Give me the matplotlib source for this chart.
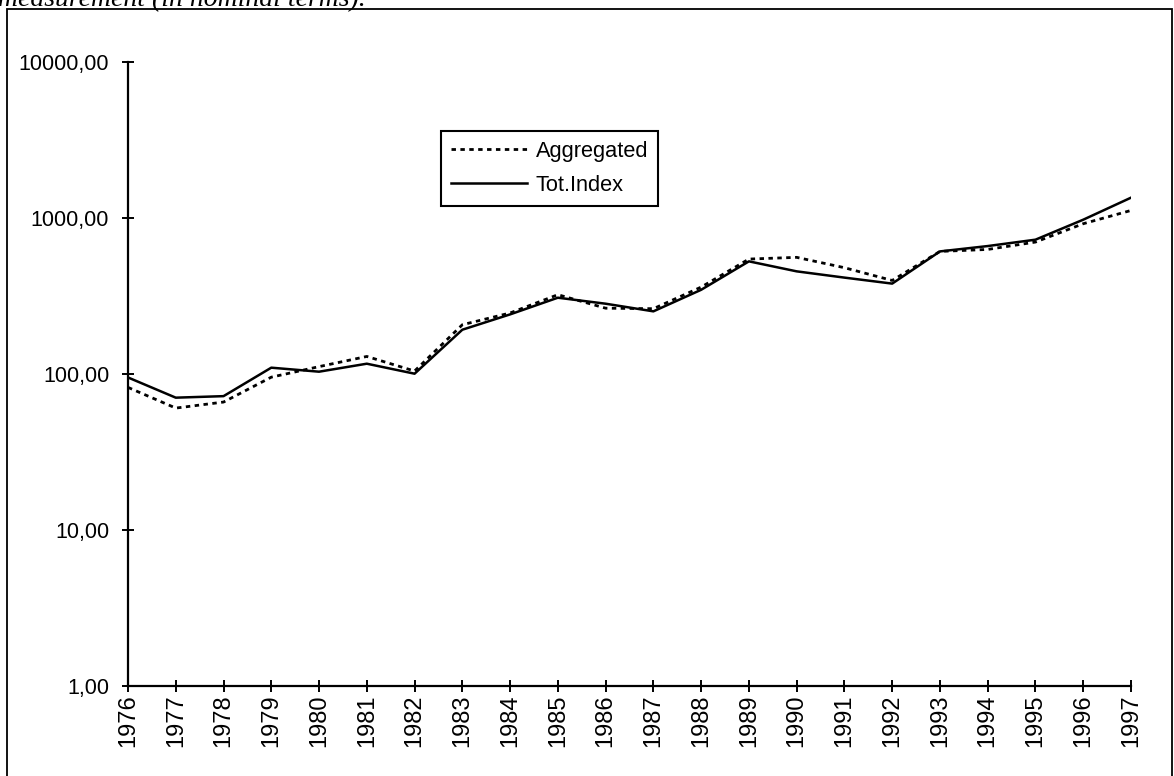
import matplotlib
matplotlib.use("Agg")
import matplotlib.pyplot as plt
from matplotlib.patches import Rectangle
from matplotlib.ticker import FixedLocator, FuncFormatter, NullLocator

years = list(range(1976, 1998))
aggregated = [81.7, 60.2, 65.8, 95, 111, 129, 104, 206, 245, 321, 263, 261,
              359, 543, 557, 478, 396, 608, 626, 698, 915, 1113]
tot_index = [94.6, 70.2, 71.8, 109.3, 103, 115.9, 100, 191.4, 240, 307, 281, 251,
             345, 525, 453, 413, 378, 608, 658, 723, 971, 1344]
y_ticks = [1, 10, 100, 1000, 10000]

plt.rcParams["font.family"] = ["Liberation Sans", "DejaVu Sans"]

fig = plt.figure(figsize=(11.74, 7.76), dpi=100)
ax = fig.add_axes([128 / 1174, 1 - 685.7 / 776, 1003 / 1174, 624 / 776])

ax.plot(years, aggregated, color="black", lw=2, linestyle=(0, (1.6, 1.6)),
        label="Aggregated")
ax.plot(years, tot_index, color="black", lw=1.8, label="Tot.Index")

ax.set_yscale("log")
ax.set_ylim(1, 10000)
ax.set_xlim(years[0], years[-1])
ax.yaxis.set_major_locator(FixedLocator(y_ticks))
ax.yaxis.set_minor_locator(NullLocator())
ax.yaxis.set_major_formatter(FuncFormatter(lambda v, _: f"{v:.2f}".replace(".", ",")))
ax.set_xticks(years)
ax.set_xticklabels([str(y) for y in years], rotation=90)

for side in ("top", "right"):
    ax.spines[side].set_visible(False)
for side in ("left", "bottom"):
    ax.spines[side].set_linewidth(1.6)
ax.tick_params(direction="inout", length=9, width=1.4, pad=3)
ax.tick_params(axis="y", labelsize=15.5, pad=9)
ax.tick_params(axis="x", labelsize=17, pad=2)

leg = ax.legend(loc="upper left", bbox_to_anchor=(0.312, 0.889), borderaxespad=0,
                fancybox=False, edgecolor="black", fontsize=15.7, handlelength=3.5,
                handletextpad=0.4, borderpad=0.45, labelspacing=0.6, framealpha=1)
leg.get_frame().set_linewidth(1.5)

# outer frame of the page figure
fig.patches.append(Rectangle((7 / 1174, -0.01), 1165 / 1174, 1 - 9 / 776 + 0.01,
                             transform=fig.transFigure, fill=False,
                             edgecolor="black", lw=1.3))
# caption line clipped at the top of the crop
fig.text(-2 / 1174, 1 - 6 / 776, "measurement (in nominal terms).",
         fontsize=20, style="italic", family=["Liberation Serif", "DejaVu Serif"],
         ha="left", va="baseline")

fig.savefig("out.png", dpi=100)
